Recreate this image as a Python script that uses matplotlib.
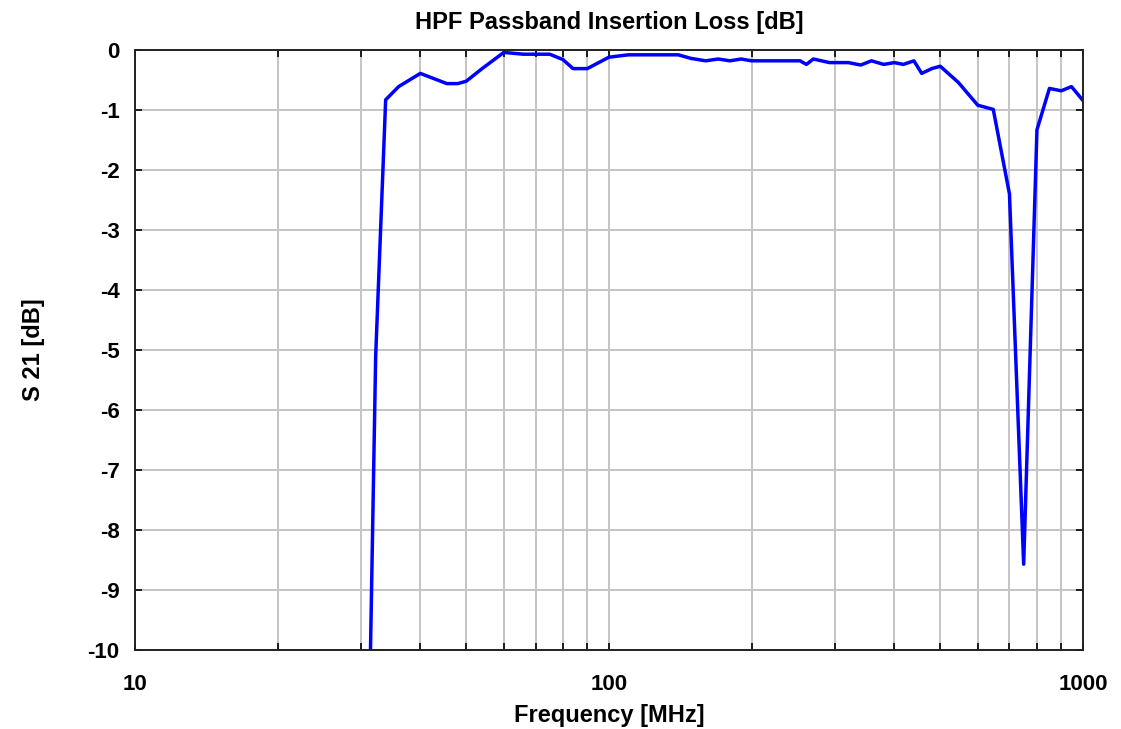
import numpy as np
import matplotlib
matplotlib.use("Agg")
import matplotlib.pyplot as plt
from matplotlib.ticker import FixedLocator, NullFormatter

# S21 of the HPF
freq_mhz = [31.4, 32.2, 33.8, 36, 40, 45.5, 48, 50, 54, 60, 66, 75, 80, 84, 90,
            100, 110, 140, 149, 160, 170, 180, 190, 200, 253, 261, 270, 292,
            320, 340, 358, 380, 400, 418, 440, 457, 480, 500, 546, 600, 647,
            700, 750, 800, 850, 900, 946, 1000]
s21_db = [-10.0, -5.1, -0.83, -0.61, -0.39, -0.56, -0.56, -0.52, -0.31, -0.04,
          -0.07, -0.07, -0.16, -0.31, -0.31, -0.12, -0.08, -0.08, -0.14, -0.18,
          -0.15, -0.18, -0.15, -0.18, -0.18, -0.24, -0.15, -0.21, -0.21, -0.25,
          -0.18, -0.24, -0.21, -0.24, -0.18, -0.39, -0.31, -0.27, -0.54, -0.92,
          -0.99, -2.4, -8.57, -1.33, -0.64, -0.68, -0.61, -0.84]

x_ticks = [10, 100, 1000]
x_labels = ["10", "100", "1000"]
y_ticks = list(range(0, -11, -1))

plt.rcParams['font.family'] = ['Liberation Sans', 'DejaVu Sans']
plt.rcParams['font.weight'] = 'bold'

fig = plt.figure(figsize=(11.21, 7.29), dpi=100)
ax = fig.add_axes([0.1204, 0.1084, 0.8456, 0.823])

ax.plot(freq_mhz, s21_db, color='#0000ff', lw=2.5, solid_joinstyle='round', clip_on=True)

ax.set_xscale('log')
ax.set_xlim(10, 1000)
ax.set_ylim(-10, 0)
ax.xaxis.set_major_locator(FixedLocator(x_ticks))
ax.set_xticklabels(x_labels)
minors = [m * d for d in (10, 100) for m in range(2, 10)]
ax.xaxis.set_minor_locator(FixedLocator(minors))
ax.xaxis.set_minor_formatter(NullFormatter())
ax.set_yticks(y_ticks)
ax.set_yticklabels([str(v) for v in y_ticks])

ax.grid(True, which='both', axis='x', color='#c4c4c4', lw=1.4)
ax.grid(True, which='major', axis='y', color='#c4c4c4', lw=1.4)
ax.set_axisbelow(True)

ax.tick_params(which='both', direction='in', top=True, right=True, length=5,
               width=1.2, labelsize=16)
ax.tick_params(axis='y', which='major', pad=11)
ax.tick_params(axis='x', which='major', pad=17)
for s in ax.spines.values():
    s.set_linewidth(1.4)
    s.set_color('#222222')

ax.set_title("HPF Passband Insertion Loss [dB]", fontsize=17, fontweight='bold', pad=15)
ax.set_xlabel("Frequency [MHz]", fontsize=17, fontweight='bold', labelpad=7)
ax.set_ylabel("S 21 [dB]", fontsize=17, fontweight='bold', labelpad=31)

fig.savefig("out.png", dpi=100)
